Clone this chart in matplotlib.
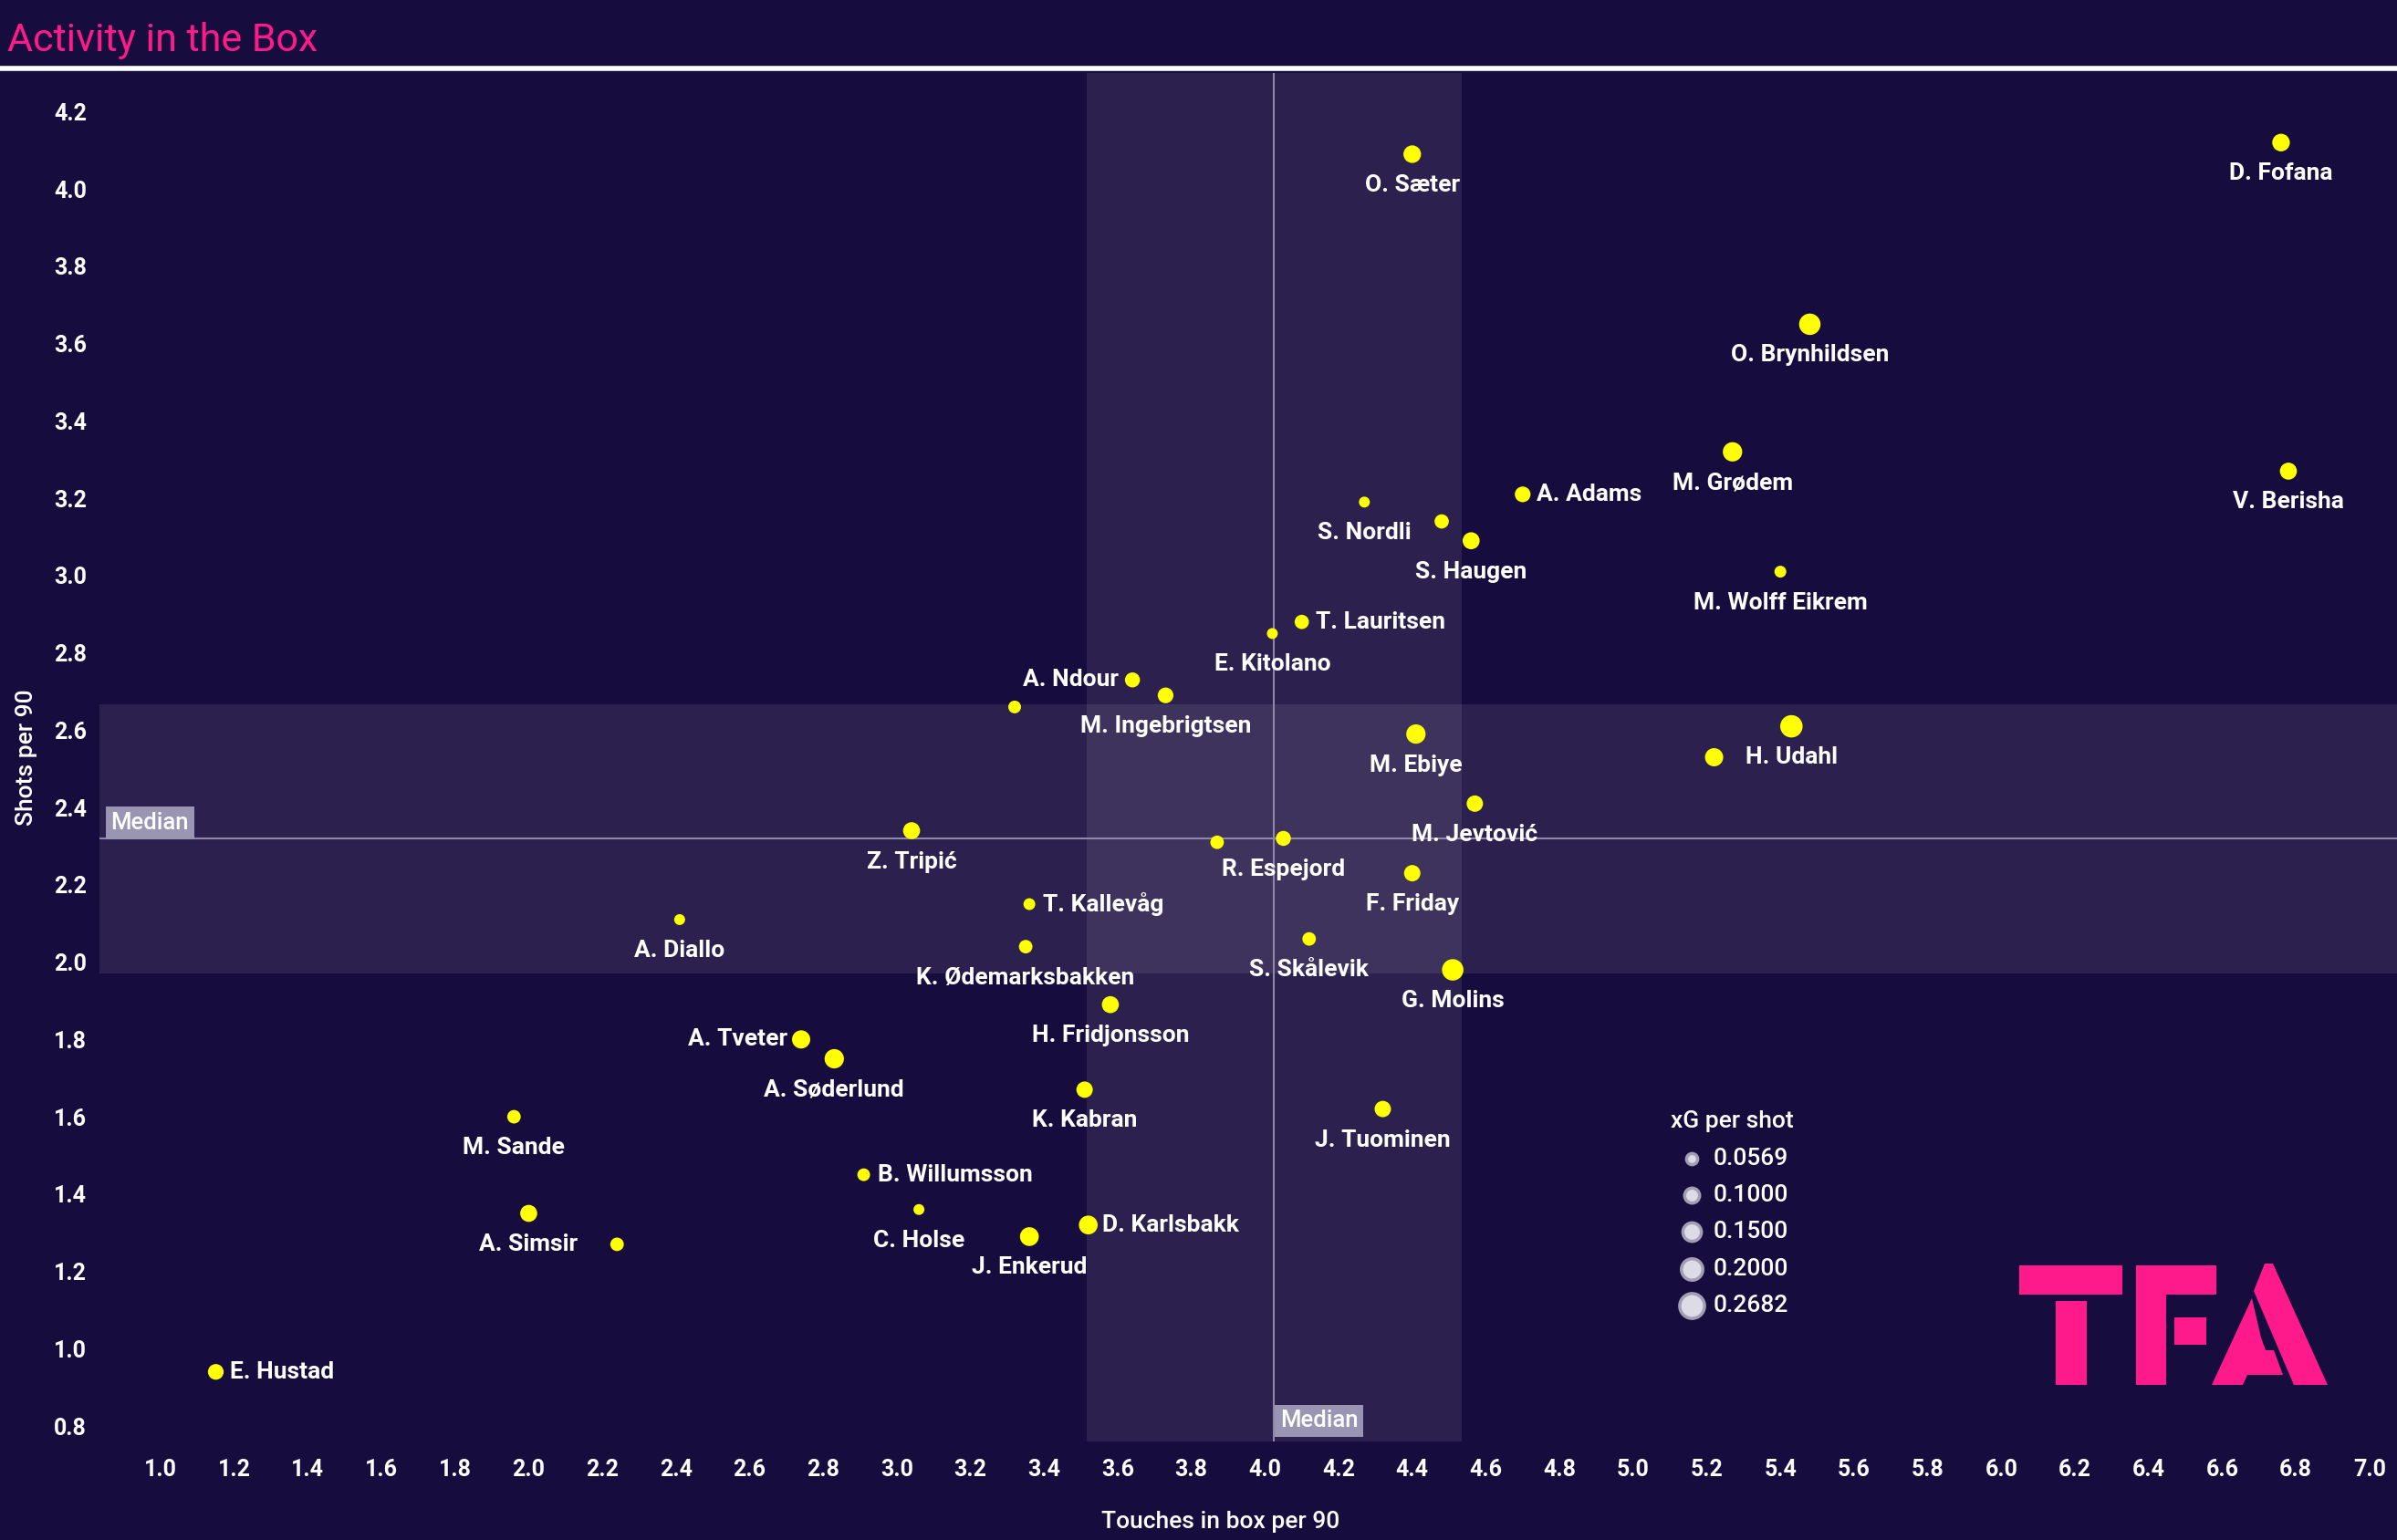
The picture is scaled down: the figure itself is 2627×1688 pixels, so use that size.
import matplotlib
matplotlib.use("Agg")
import matplotlib.pyplot as plt
import matplotlib.transforms as mtransforms
from matplotlib import font_manager
from matplotlib.patches import Polygon

# ── font: narrow sans if available ──
avail = {f.name for f in font_manager.fontManager.ttflist}
FONT = "Liberation Sans Narrow" if "Liberation Sans Narrow" in avail else "Roboto"
plt.rcParams["font.family"] = [FONT, "DejaVu Sans"]

BG = "#170c3e"
PINK = "#ff1a8c"

# ── data ──
players = ["O. Sæter", "D. Fofana", "O. Brynhildsen", "M. Grødem", "V. Berisha",
           "A. Adams", "S. Nordli", "", "S. Haugen", "M. Wolff Eikrem",
           "T. Lauritsen", "E. Kitolano", "A. Ndour", "M. Ingebrigtsen", "",
           "H. Udahl", "M. Ebiye", "", "M. Jevtović", "Z. Tripić",
           "", "R. Espejord", "F. Friday", "T. Kallevåg", "A. Diallo",
           "K. Ødemarksbakken", "S. Skålevik", "G. Molins", "H. Fridjonsson", "A. Tveter",
           "A. Søderlund", "K. Kabran", "J. Tuominen", "M. Sande", "B. Willumsson",
           "C. Holse", "A. Simsir", "", "D. Karlsbakk", "J. Enkerud",
           "E. Hustad"]
touches = [4.40, 6.76, 5.48, 5.27, 6.78,
           4.70, 4.27, 4.48, 4.56, 5.40,
           4.10, 4.02, 3.64, 3.73, 3.32,
           5.43, 4.41, 5.22, 4.57, 3.04,
           3.87, 4.05, 4.40, 3.36, 2.41,
           3.35, 4.12, 4.51, 3.58, 2.74,
           2.83, 3.51, 4.32, 1.96, 2.91,
           3.06, 2.00, 2.24, 3.52, 3.36,
           1.15]
shots = [4.09, 4.12, 3.65, 3.32, 3.27,
         3.21, 3.19, 3.14, 3.09, 3.01,
         2.88, 2.85, 2.73, 2.69, 2.66,
         2.61, 2.59, 2.53, 2.41, 2.34,
         2.31, 2.32, 2.23, 2.15, 2.11,
         2.04, 2.06, 1.98, 1.89, 1.80,
         1.75, 1.67, 1.62, 1.60, 1.45,
         1.36, 1.35, 1.27, 1.32, 1.29,
         0.94]
xg_shot = [0.15, 0.15, 0.22, 0.18, 0.14,
           0.12, 0.06, 0.10, 0.14, 0.07,
           0.10, 0.06, 0.11, 0.12, 0.08,
           0.24, 0.18, 0.16, 0.13, 0.14,
           0.09, 0.11, 0.13, 0.07, 0.06,
           0.09, 0.09, 0.22, 0.14, 0.16,
           0.18, 0.13, 0.13, 0.09, 0.08,
           0.06, 0.14, 0.09, 0.17, 0.17,
           0.12]
# label position: b = below, r = right, l = left
label_pos = ["b", "b", "b", "b", "b",
             "r", "b", "", "b", "b",
             "r", "b", "l", "b", "",
             "b", "b", "", "b", "b",
             "", "b", "b", "r", "b",
             "b", "b", "b", "b", "l",
             "b", "b", "b", "b", "r",
             "b", "b", "", "r", "b",
             "r"]

median_x = 4.023
median_y = 2.32
band_x = (3.517, 4.534)
band_y = (1.971, 2.668)

legend_vals = [0.0569, 0.1000, 0.1500, 0.2000, 0.2682]
xticks = [round(1.0 + 0.2 * i, 1) for i in range(31)]
yticks = [round(0.8 + 0.2 * i, 1) for i in range(18)]

XG_MIN, XG_MAX = 0.0569, 0.2682
size = lambda v: 70 + (v - XG_MIN) / (XG_MAX - XG_MIN) * 280

# ── figure ──
fig = plt.figure(figsize=(26.27, 16.88), dpi=100, facecolor=BG)
ax = fig.add_axes([109 / 2627, 108 / 1688, 1 - 109 / 2627, (1580 - 80) / 1688])
ax.set_facecolor(BG)
ax.set_xlim(0.834, 7.075)
ax.set_ylim(0.76, 4.30)

# title + white rule
fig.text(0.003, 0.986, "Activity in the Box", color=PINK, fontsize=31,
         ha="left", va="top")
fig.add_artist(plt.Line2D([0, 1], [1 - 75 / 1688, 1 - 75 / 1688],
                          color="white", lw=4, transform=fig.transFigure))

# median bands & lines
ax.axvspan(*band_x, color="white", alpha=0.085, lw=0, zorder=0)
ax.axhspan(*band_y, color="white", alpha=0.085, lw=0, zorder=0)
ax.axvline(median_x, color="#8d88a8", lw=1.5, zorder=1)
ax.axhline(median_y, color="#8d88a8", lw=1.5, zorder=1)

box = dict(boxstyle="square,pad=0.22", fc="#9a95b3", ec="none")
ax.text(0.005, median_y + 0.012, "Median", color="white", fontsize=18.5,
        fontweight="medium", ha="left", va="bottom",
        transform=mtransforms.blended_transform_factory(ax.transAxes, ax.transData),
        bbox=box, zorder=3)
ax.text(median_x + 0.018, 0.007, "Median", color="white", fontsize=18.5,
        fontweight="medium", ha="left", va="bottom",
        transform=mtransforms.blended_transform_factory(ax.transData, ax.transAxes),
        bbox=box, zorder=3)

# points
ax.scatter(touches, shots, s=[size(v) for v in xg_shot], c="#ffff00",
           edgecolors="none", zorder=4)

for name, x, y, p in zip(players, touches, shots, label_pos):
    if not name:
        continue
    if p == "b":
        off, ha, va = (0, -24.5), "center", "center"
    elif p == "r":
        off, ha, va = (11, 0), "left", "center"
    else:
        off, ha, va = (-11, 0), "right", "center"
    ax.annotate(name, (x, y), xytext=off, textcoords="offset points",
                ha=ha, va=va, color="white", fontsize=19, fontweight="bold", zorder=5)

# axes styling
ax.set_xticks(xticks)
ax.set_yticks(yticks)
ax.set_xticklabels([f"{v:.1f}" for v in xticks])
ax.set_yticklabels([f"{v:.1f}" for v in yticks])
ax.tick_params(colors="white", labelsize=18, length=0)
ax.tick_params(axis="x", pad=14)
ax.tick_params(axis="y", pad=10)
for lbl in ax.get_xticklabels() + ax.get_yticklabels():
    lbl.set_fontweight("bold")
for s in ax.spines.values():
    s.set_visible(False)
ax.set_xlabel("Touches in box per 90", color="white", fontsize=19, fontweight="medium")
ax.set_ylabel("Shots per 90", color="white", fontsize=19, fontweight="medium")
ax.xaxis.set_label_coords(0.488, -0.051)
ax.yaxis.set_label_coords(-0.027, 0.5)

# legend (xG per shot)
handles = [ax.scatter([], [], s=size(v) * 1.1, c="#dcdbe6", edgecolors="#a29eb4", linewidths=2.5)
           for v in legend_vals]
leg = fig.legend(handles, [f"{v:.4f}" for v in legend_vals], title="xG per shot",
                 loc="upper left", bbox_to_anchor=(1818 / 2627, 1 - 1204 / 1688),
                 frameon=False, fontsize=19, title_fontsize=19, labelspacing=0.62,
                 handletextpad=0.25, borderpad=0, handlelength=1.3)
plt.setp(leg.get_texts(), color="white", fontweight="medium")
leg.get_title().set_color("white")
leg.get_title().set_fontweight("medium")

# TFA logo (figure pixel coords)
def px(pts):
    return [(x / 2627, 1 - y / 1688) for x, y in pts]

logo = [
    [(2213, 1387), (2326, 1387), (2326, 1419), (2213, 1419)],
    [(2253, 1426), (2287, 1426), (2287, 1518), (2253, 1518)],
    [(2341, 1387), (2429, 1387), (2429, 1419), (2374, 1419), (2374, 1518), (2341, 1518)],
    [(2383, 1444), (2418, 1444), (2418, 1474), (2383, 1474)],
    [(2482, 1385), (2491, 1385), (2551, 1518), (2514, 1518), (2470, 1415)],
    [(2468, 1423), (2478, 1466), (2483, 1480), (2492, 1480), (2502, 1507),
     (2463, 1507), (2458, 1518), (2424, 1518)],
]
for poly in logo:
    fig.add_artist(Polygon(px(poly), closed=True, fc=PINK, ec="none",
                           transform=fig.transFigure))

fig.savefig("out.png", dpi=100, facecolor=BG)
